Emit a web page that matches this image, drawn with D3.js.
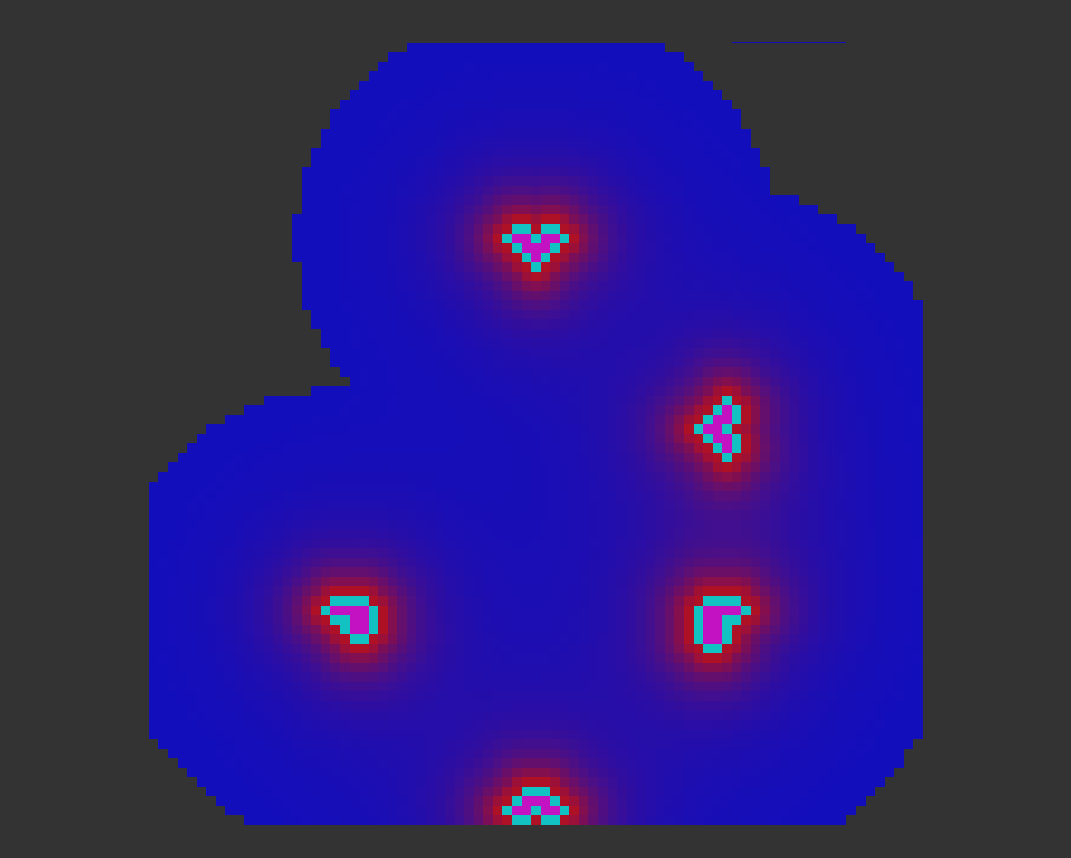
<!DOCTYPE html>
<html>
<head>
<meta charset="utf-8">
<script src="https://cdn.jsdelivr.net/npm/d3@7"></script>
<style>
html, body { margin: 0; padding: 0; background: #333333; overflow: hidden; }
svg { display: block; }
</style>
</head>
<body>
<svg id="chart" width="1071" height="858"></svg>
<script>
// ---- data ----
// grid rows -1 .. 81, columns 0 .. 80
const firstRow = -1;
const rowStart = [61,
  27,25,24,23,22,21,20,19,19,18,18,
  17,17,16,16,16,16,16,15,15,15,
  15,15,16,16,16,16,16,17,17,18,
  18,19,19,20,21,17,12,10,8,6,
  5,4,3,2,1,
  0,0,0,0,0,0,0,0,0,0,0,0,0,0,0,0,0,0,0,0,0,0,0,0,0,0,0,
  1,2,3,4,5,6,7,8,10];
const rowEnd = [73,
  54,56,57,58,59,60,61,62,62,63,63,
  64,64,65,65,65,68,70,72,74,75,
  76,77,78,79,80,80,81,81,81,81,
  81,81,81,81,81,81,81,81,81,81,81,81,81,81,81,81,81,81,81,81,81,
  81,81,81,81,81,81,81,81,81,81,81,81,81,81,81,81,81,81,81,81,81,
  80,79,79,78,77,76,75,74,73];

// glyphs: C = edge (cyan), M = inside (magenta)
const glyphTop = { col: 37, row: 19, rows: [".CC.CC.", "CMMCMMC", ".CMMMC.", "..CMC..", "...C..."] };
const glyphRightUpper = { col: 57, row: 37, rows: ["...C.", "..CMC", ".CMMC", "CMMC.", ".CMMC", "..CMC", "...C."] };
const glyphRightLower = { col: 57, row: 58, rows: [".CCCC.", "CMMMMC", "CMMCC.", "CMMC..", "CMMC..", ".CC..."] };
const glyphBottom = { col: 37, row: 78, rows: ["..CCC..", ".CMMMC.", "CMMCMMC", ".CC.CC."] };
const glyphLeft = { col: 18, row: 58, rows: [".CCCC.", "CMMMMC", ".CCMMC", "..CMMC", "...CC."] };
const glyphs = [glyphTop, glyphRightUpper, glyphRightLower, glyphBottom, glyphLeft];

// ---- styles ----
const colBlue = "rgb(16,14,190)";
const colRed = "rgb(174,16,38)";
const colCyan = "rgb(18,194,194)";
const colMagenta = "rgb(194,18,194)";
const coreFalloff = 2.2, coreWeight = 0.65;
const tailFalloff = 6, tailWeight = 0.35;

const svg = d3.select("#chart");
const x = d3.scaleLinear().domain([0, 81]).range([148.9, 922.9]);
const y = d3.scaleLinear().domain([0, 82]).range([42.7, 825]);
const heat = d3.scaleLinear().domain([0, 1]).range([colBlue, colRed]).interpolate(d3.interpolateRgb).clamp(true);

const glyphCells = glyphs.map(g => {
  const out = [];
  g.rows.forEach((s, i) => [...s].forEach((ch, j) => {
    if (ch !== ".") out.push({ c: g.col + j, r: g.row + i, k: ch });
  }));
  return out;
});
const kind = new Map();
glyphCells.flat().forEach(p => kind.set(p.c + "," + p.r, p.k));

const cells = [];
rowStart.forEach((s, i) => {
  const r = i + firstRow;
  for (let c = s; c < rowEnd[i]; c++) {
    let v = 0;
    glyphCells.forEach(gc => {
      let dm = Infinity;
      gc.forEach(p => { const d = Math.hypot(p.c - c, p.r - r); if (d < dm) dm = d; });
      v += coreWeight * Math.exp(-(dm - 1) / coreFalloff) + tailWeight * Math.exp(-(dm - 1) / tailFalloff);
    });
    cells.push({ c, r, v: Math.min(1, v), k: kind.get(c + "," + r) });
  }
});

svg.append("defs").append("clipPath").attr("id", "clip")
  .append("rect").attr("x", 0).attr("y", 42).attr("width", 1071).attr("height", 784);

svg.append("g").attr("clip-path", "url(#clip)")
  .selectAll("rect").data(cells).join("rect")
  .attr("x", d => x(d.c))
  .attr("y", d => y(d.r))
  .attr("width", d => x(d.c + 1) - x(d.c))
  .attr("height", d => y(d.r + 1) - y(d.r))
  .attr("shape-rendering", "crispEdges")
  .attr("fill", d => d.k === "C" ? colCyan : d.k === "M" ? colMagenta : heat(d.v));
</script>
</body>
</html>
